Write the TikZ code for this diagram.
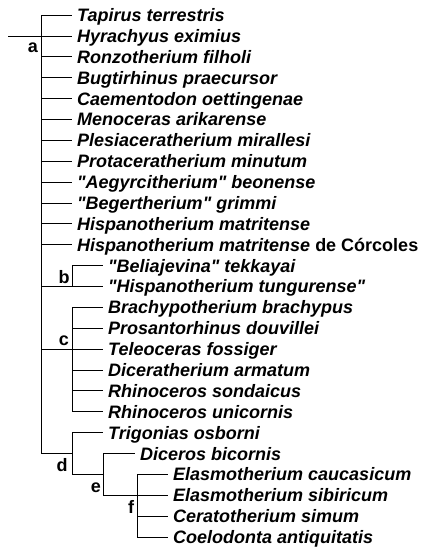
\documentclass[tikz,border=0pt]{standalone}
\usepackage{fontspec}
\setmainfont{Liberation Sans}
\usetikzlibrary{positioning}

\begin{document}
\begin{tikzpicture}[
    x=1pt, y=-1pt,
    every node/.style={font=\fontsize{18}{20}\selectfont\bfseries},
    taxon/.style={
        anchor=west,
        inner xsep=5pt,
        inner ysep=0pt,
        text height=13pt,
        text depth=0pt,
        font=\fontsize{18}{20}\selectfont\bfseries\itshape
    },
    clade/.style={
        anchor=base,
        inner sep=0pt
    },
    branch/.style={
        line width=0.7pt
    }
]

\useasboundingbox (0,0) rectangle (426,547);

% =========================================================
% CLADE BARS (x positions)
% =========================================================

\coordinate (a) at (41,0);
\coordinate (b) at (72,0);
\coordinate (c) at (72,0);
\coordinate (d) at (72,0);
\coordinate (e) at (103,0);
\coordinate (f) at (137,0);
\coordinate (root) at (8,35.9);

% =========================================================
% TAXA
% =========================================================

\node[taxon] (tapirus) at (72,15) {Tapirus terrestris};
\node[taxon] (hyrachyus) at (72,35.9) {Hyrachyus eximius};
\node[taxon] (ronzo) at (72,56.8) {Ronzotherium filholi};
\node[taxon] (bugti) at (72,77.6) {Bugtirhinus praecursor};
\node[taxon] (caemento) at (72,98.5) {Caementodon oettingenae};
\node[taxon] (menoceras) at (72,119.4) {Menoceras arikarense};
\node[taxon] (plesia) at (72,140.3) {Plesiaceratherium mirallesi};
\node[taxon] (protacer) at (72,161.2) {Protaceratherium minutum};
\node[taxon] (aegyrc) at (72,182.0) {\textquotedbl Aegyrcitherium\textquotedbl\ beonense};
\node[taxon] (begert) at (72,202.9) {\textquotedbl Begertherium\textquotedbl\ grimmi};
\node[taxon] (hispmat) at (72,223.8) {Hispanotherium matritense};
\node[taxon] (hispcor) at (72,244.7) {Hispanotherium matritense {\upshape de Córcoles}};

\node[taxon] (beliaj) at (103,265.6) {\textquotedbl Beliajevina\textquotedbl\ tekkayai};
\node[taxon] (hisptung) at (103,286.4) {\textquotedbl Hispanotherium tungurense\textquotedbl};

\node[taxon] (brachy) at (103,307.3) {Brachypotherium brachypus};
\node[taxon] (prosant) at (103,328.2) {Prosantorhinus douvillei};
\node[taxon] (teleo) at (103,349.1) {Teleoceras fossiger};
\node[taxon] (dicerat) at (103,370.0) {Diceratherium armatum};
\node[taxon] (rhsond) at (103,390.8) {Rhinoceros sondaicus};
\node[taxon] (rhunic) at (103,411.7) {Rhinoceros unicornis};

\node[taxon] (trigonias) at (103,432.6) {Trigonias osborni};
\node[taxon] (diceros) at (135,453.5) {Diceros bicornis};
\node[taxon] (elascau) at (168,474.4) {Elasmotherium caucasicum};
\node[taxon] (elassib) at (168,495.2) {Elasmotherium sibiricum};
\node[taxon] (cerato) at (168,516.1) {Ceratotherium simum};
\node[taxon] (coelo) at (168,537.0) {Coelodonta antiquitatis};

% =========================================================
% CLADE LABELS
% =========================================================

\node[clade] (labela) at (33,52) {a};
\node[clade] (labelb) at (64,283) {b};
\node[clade] (labelc) at (64,345) {c};
\node[clade] (labeld) at (62,471) {d};
\node[clade] (labele) at (96,492) {e};
\node[clade] (labelf) at (131,513) {f};

% =========================================================
% CLADE a
% =========================================================

\draw[branch] (root) -- (a |- root);
\draw[branch] (a |- tapirus) -- (a |- diceros);

\draw[branch] (a |- tapirus) -- (tapirus.west);
\draw[branch] (a |- hyrachyus) -- (hyrachyus.west);
\draw[branch] (a |- ronzo) -- (ronzo.west);
\draw[branch] (a |- bugti) -- (bugti.west);
\draw[branch] (a |- caemento) -- (caemento.west);
\draw[branch] (a |- menoceras) -- (menoceras.west);
\draw[branch] (a |- plesia) -- (plesia.west);
\draw[branch] (a |- protacer) -- (protacer.west);
\draw[branch] (a |- aegyrc) -- (aegyrc.west);
\draw[branch] (a |- begert) -- (begert.west);
\draw[branch] (a |- hispmat) -- (hispmat.west);
\draw[branch] (a |- hispcor) -- (hispcor.west);

% =========================================================
% CLADE b
% =========================================================

\draw[branch] (a |- hisptung) -- (hisptung.west);
\draw[branch] (b |- beliaj) -- (b |- hisptung);
\draw[branch] (b |- beliaj) -- (beliaj.west);

% =========================================================
% CLADE c
% =========================================================

\draw[branch] (a |- teleo) -- (c |- teleo);
\draw[branch] (c |- brachy) -- (c |- rhunic);

\draw[branch] (c |- brachy) -- (brachy.west);
\draw[branch] (c |- prosant) -- (prosant.west);
\draw[branch] (c |- teleo) -- (teleo.west);
\draw[branch] (c |- dicerat) -- (dicerat.west);
\draw[branch] (c |- rhsond) -- (rhsond.west);
\draw[branch] (c |- rhunic) -- (rhunic.west);

% =========================================================
% CLADES d, e AND f
% =========================================================

\draw[branch] (a |- diceros) -- (d |- diceros);
\draw[branch] (d |- trigonias) -- (d |- elascau);
\draw[branch] (d |- trigonias) -- (trigonias.west);

\draw[branch] (d |- elascau) -- (e |- elascau);
\draw[branch] (e |- diceros) -- (e |- elassib);
\draw[branch] (e |- diceros) -- (diceros.west);

\draw[branch] (e |- elassib) -- (f |- elassib);
\draw[branch] (f |- elascau) -- (f |- coelo);

\draw[branch] (f |- elascau) -- (elascau.west);
\draw[branch] (f |- elassib) -- (elassib.west);
\draw[branch] (f |- cerato) -- (cerato.west);
\draw[branch] (f |- coelo) -- (coelo.west);

\end{tikzpicture}
\end{document}
